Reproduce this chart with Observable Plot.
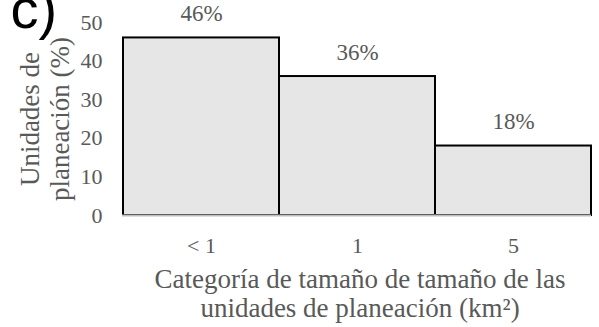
<!DOCTYPE html>
<html>
<head>
<meta charset="utf-8">
<script src="https://cdn.jsdelivr.net/npm/d3@7"></script>
<script src="https://cdn.jsdelivr.net/npm/@observablehq/plot@0.6"></script>
<style>
  html, body { margin: 0; padding: 0; background: #fff; }
  #chart { width: 599px; height: 327px; overflow: hidden; }
  svg { overflow: visible; }
  #chart g[aria-label="x-axis tick label"],
  #chart g[aria-label="y-axis tick label"] { font-size: 22px; }
</style>
</head>
<body>
<div id="chart"></div>
<script>
// Size categories of planning units (km²) and share of units in each (%)
const categories = ["< 1", "1", "5"];
const shares = [46, 36, 18];
const yTicks = [0, 10, 20, 30, 40, 50];

const data = categories.map((c, i) => ({category: c, share: shares[i]}));

const font = "Liberation Serif, Times New Roman, serif";
const grey = "#595959";

const chart = Plot.plot({
  width: 599,
  height: 327,
  marginLeft: 122,
  marginRight: 8,
  marginTop: 22,
  marginBottom: 112,
  style: {fontFamily: font, fontSize: "22px", color: grey, background: "#fff"},
  x: {domain: categories, padding: 0, label: null},
  y: {domain: [0, 50], label: null},
  marks: [
    Plot.barY(data, {x: "category", y: "share", fill: "#e6e6e6", stroke: "#000", strokeWidth: 2}),
    Plot.ruleY([0], {stroke: "#bfbfbf", strokeWidth: 2}),
    Plot.text(data, {
      x: "category", y: "share", text: d => `${d.share}%`,
      dy: -24, fontSize: 23, fill: grey
    }),
    Plot.axisY({ticks: yTicks, tickSize: 0, tickPadding: 20, fontSize: 22, fill: grey, label: null}),
    Plot.axisX({tickSize: 0, tickPadding: 22, fontSize: 22, fill: grey, label: null}),
    Plot.text(["Categoría de tamaño de tamaño de las\nunidades de planeación (km²)"], {
      frameAnchor: "bottom", dx: 3, dy: 101, fontSize: 27, lineHeight: 1.05, fill: grey
    }),
    Plot.text(["Unidades de\nplaneación (%)"], {
      frameAnchor: "left", textAnchor: "middle", rotate: -90, dx: -78,
      fontSize: 27, lineHeight: 1.1, fill: grey
    }),
    Plot.text(["c)"], {
      frameAnchor: "top-left", dx: -112, dy: -34, fontSize: 56, fill: "#000",
      textAnchor: "start", fontFamily: "Liberation Sans, Arial, sans-serif"
    })
  ]
});

document.getElementById("chart").appendChild(chart);
</script>
</body>
</html>
